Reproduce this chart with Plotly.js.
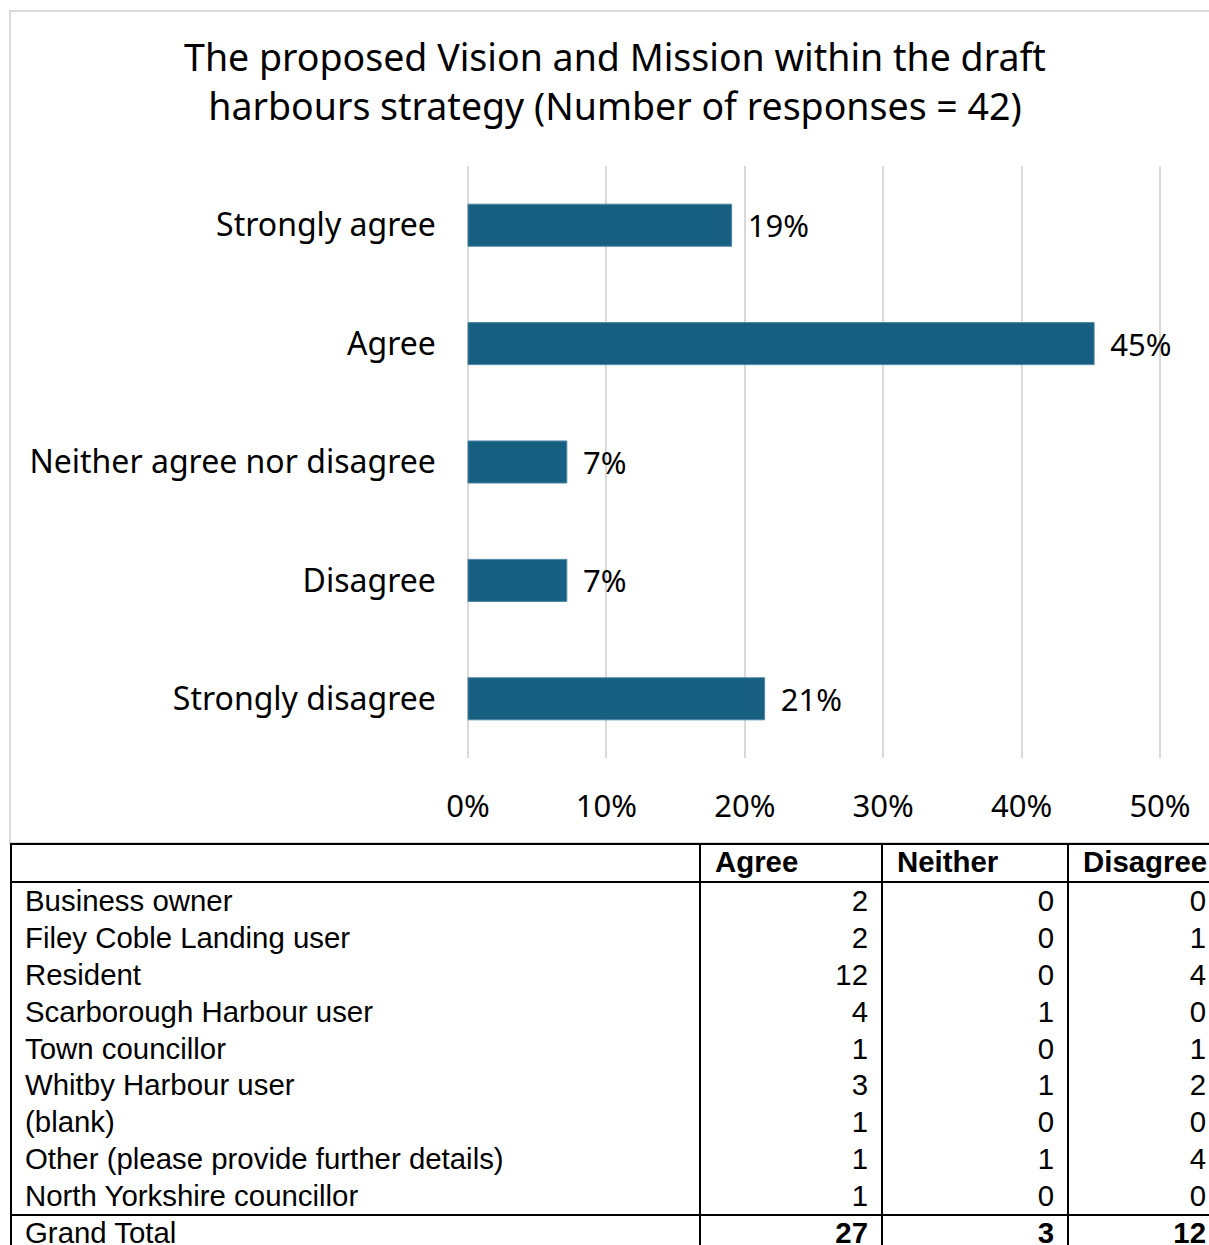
<!DOCTYPE html>
<html>
<head>
<meta charset="utf-8">
<script src="https://cdn.plot.ly/plotly-3.0.1.min.js"></script>
<style>html,body{margin:0;padding:0;background:#fff;}#chart{width:1209px;height:1245px;}</style>
</head>
<body>
<div id="chart"></div>
<script>
// ---- Chart data ----
const responseCategories = ["Strongly agree", "Agree", "Neither agree nor disagree", "Disagree", "Strongly disagree"];
const responseShares = [0.1905, 0.4524, 0.0714, 0.0714, 0.2143];
const axisTicks = [0, 0.1, 0.2, 0.3, 0.4, 0.5];
const chartTitle = "The proposed Vision and Mission within the draft<br>harbours strategy (Number of responses = 42)";

// ---- Table data ----
const tableHeaders = ["", "Agree", "Neither", "Disagree"];
const respondentTypes = ["Business owner", "Filey Coble Landing user", "Resident", "Scarborough Harbour user",
  "Town councillor", "Whitby Harbour user", "(blank)", "Other (please provide further details)", "North Yorkshire councillor"];
const agreeCounts    = [2, 2, 12, 4, 1, 3, 1, 1, 1];
const neitherCounts  = [0, 0, 0, 1, 0, 1, 0, 1, 0];
const disagreeCounts = [0, 1, 4, 0, 1, 2, 0, 4, 0];
const totalLabel = "Grand Total";
const totalCounts = [27, 3, 12];

// ---- Layout helpers (pixel geometry) ----
const W = 1209, H = 1245;
const px = v => v / W;
const py = v => 1 - v / H;
const colEdges = [11, 700, 882, 1068, 1220];
const pad = 15;

const chartFont = "Noto Sans, Open Sans, sans-serif";
const tableFont = "Liberation Sans, Arial, sans-serif";

const rowIdx = respondentTypes.map((_, i) => i);
const totalIdx = respondentTypes.length;
const headerIdx = -1.06;
const rowPitch = 36.8, row0 = 904;

const traces = [];
traces.push({
  type: "bar", orientation: "h",
  y: responseCategories, x: responseShares,
  width: 0.355,
  marker: {color: "#175f80", line: {color: "#4f86a3", width: 1}},
  texttemplate: "\u00a0\u2009%{x:.0%}", textposition: "outside",
  textfont: {family: chartFont, size: 31, color: "#000"},
  cliponaxis: false, hoverinfo: "skip", xaxis: "x", yaxis: "y"
});

// Table text
const tText = (xs, ys, texts, pos, bold) => ({
  type: "scatter", mode: "text", x: xs, y: ys, text: texts,
  textposition: pos, cliponaxis: false, hoverinfo: "skip",
  textfont: {family: tableFont, size: 29.4, color: "#000", weight: bold ? "bold" : "normal"},
  xaxis: "x2", yaxis: "y2", showlegend: false
});
// headers (left aligned)
traces.push(tText(colEdges.slice(1, 4).map(e => e + pad), [headerIdx, headerIdx, headerIdx], tableHeaders.slice(1), "middle right", true));
// row labels
traces.push(tText(rowIdx.map(() => colEdges[0] + pad - 1).concat([colEdges[0] + pad - 1]), rowIdx.concat([totalIdx]), respondentTypes.concat([totalLabel]), "middle right", false));
// numbers (right aligned)
[agreeCounts, neitherCounts, disagreeCounts].forEach((arr, c) => {
  traces.push(tText(rowIdx.map(() => colEdges[c + 2] - pad + 1), rowIdx, arr.map(String), "middle left", false));
  traces.push(tText([colEdges[c + 2] - pad + 1], [totalIdx], [String(totalCounts[c])], "middle left", true));
});

const tableTop = 843, tableBottom = 1245;
const y2range = [(tableBottom - row0) / rowPitch, (tableTop - row0) / rowPitch];
const yLine = p => (p - row0) / rowPitch;

const shapes = [
  // chart border
  {type: "rect", xref: "paper", yref: "paper", x0: px(10), x1: px(1225), y0: py(843), y1: py(11), line: {color: "#d9d9d9", width: 2}},
  // table horizontal lines
  {type: "line", xref: "paper", yref: "paper", x0: px(10), x1: px(1225), y0: py(844), y1: py(844), line: {color: "#000", width: 2}},
  {type: "line", xref: "paper", yref: "y2", x0: px(10), x1: px(1225), y0: yLine(882), y1: yLine(882), line: {color: "#000", width: 2}},
  {type: "line", xref: "paper", yref: "y2", x0: px(10), x1: px(1225), y0: yLine(1215), y1: yLine(1215), line: {color: "#000", width: 2}}
];
colEdges.slice(0, 4).forEach(e => shapes.push({type: "line", xref: "x2", yref: "paper", x0: e, x1: e, y0: 0, y1: py(843), line: {color: "#000", width: 2}}));

const xmin = -0.002;
const layout = {
  width: W, height: H,
  margin: {l: 0, r: 0, t: 0, b: 0},
  paper_bgcolor: "#fff", plot_bgcolor: "rgba(0,0,0,0)",
  showlegend: false,
  title: {text: chartTitle, x: px(615), xanchor: "center", y: py(71), yanchor: "top",
          font: {family: chartFont, size: 37.5, color: "#000"}},
  xaxis: {domain: [px(468 + xmin * 1384), px(468 + 0.505 * 1384)], range: [xmin, 0.505],
          tickvals: axisTicks, tickformat: ".0%", showgrid: true, gridcolor: "#d9d9d9", gridwidth: 2,
          zeroline: false, showline: false, ticks: "outside", ticklen: 21, tickcolor: "rgba(0,0,0,0)",
          tickfont: {family: chartFont, size: 31, color: "#000"}, fixedrange: true},
  yaxis: {domain: [py(758), py(166)], autorange: "reversed", type: "category",
          showgrid: false, zeroline: false, showline: false, ticks: "outside", ticklen: 22, tickcolor: "rgba(0,0,0,0)",
          tickfont: {family: chartFont, size: 32, color: "#000"}, fixedrange: true},
  xaxis2: {domain: [0, 1], range: [0, W], visible: false, fixedrange: true, anchor: "y2"},
  yaxis2: {domain: [0, py(tableTop)], range: y2range, visible: false, fixedrange: true, anchor: "x2"},
  shapes: shapes
};

Plotly.newPlot("chart", traces, layout, {staticPlot: true, displayModeBar: false});
</script>
</body>
</html>
